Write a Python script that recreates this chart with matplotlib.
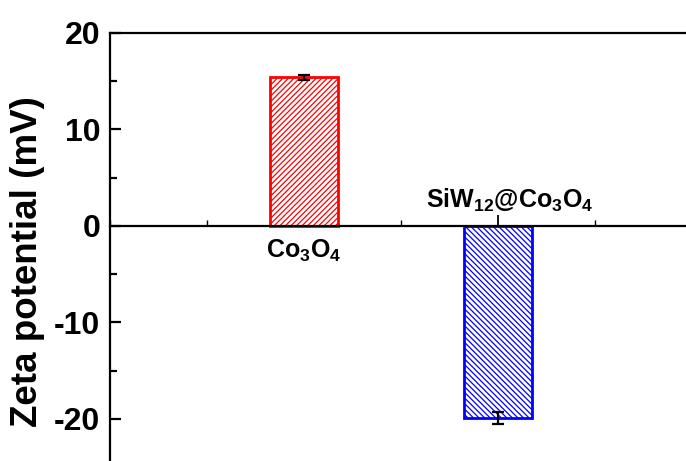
import numpy as np
import matplotlib
matplotlib.use("Agg")
import matplotlib.pyplot as plt
from matplotlib.ticker import MultipleLocator

# data
samples = [r"$\mathbf{Co_3O_4}$", r"$\mathbf{SiW_{12}@Co_3O_4}$"]
zeta = [15.4, -19.9]
zeta_err = [0.25, 0.6]
edge_colors = ["#ff0000", "#0000ff"]
hatches = ["//////", "\\\\\\\\\\\\"]
y_ticks = [-20, -10, 0, 10, 20]

plt.rcParams["font.family"] = ["Liberation Sans", "DejaVu Sans"]
plt.rcParams["font.weight"] = "bold"
plt.rcParams["mathtext.fontset"] = "custom"
plt.rcParams["mathtext.bf"] = "Liberation Sans:bold"
plt.rcParams["mathtext.rm"] = "Liberation Sans:bold"
plt.rcParams["axes.unicode_minus"] = False
plt.rcParams["hatch.linewidth"] = 0.9

fig = plt.figure(figsize=(6.86, 4.61), dpi=100)
ax = fig.add_axes([110 / 686, -6 / 461, 582 / 686, 434 / 461])

x = np.arange(1, len(zeta) + 1)
for i in range(len(zeta)):
    ax.bar(x[i], zeta[i], width=0.355, color="white", edgecolor=edge_colors[i],
           hatch=hatches[i], linewidth=2, zorder=2)
ax.errorbar(x, zeta, yerr=zeta_err, fmt="none", ecolor="black",
            elinewidth=1.6, capsize=4, capthick=1.6, zorder=3)

ax.set_xlim(0, 3)
ax.set_ylim(-25, 20)

ax.spines["bottom"].set_position(("data", 0))
ax.spines["right"].set_visible(False)
for s in ["left", "bottom", "top"]:
    ax.spines[s].set_linewidth(1.6)

ax.set_xticks(x)
ax.set_xticklabels([])
ax.xaxis.set_minor_locator(MultipleLocator(0.5))
ax.tick_params(axis="x", which="major", direction="in", length=8, width=1.3, top=False)
ax.tick_params(axis="x", which="minor", direction="in", length=4, width=1.0, top=False)

ax.set_yticks(y_ticks)
ax.yaxis.set_minor_locator(MultipleLocator(5))
ax.tick_params(axis="y", which="major", direction="in", length=8, width=1.6,
               labelsize=23, pad=7)
ax.tick_params(axis="y", which="minor", direction="in", length=5, width=1.6)
for lab in ax.get_yticklabels():
    lab.set_fontweight("bold")

ax.set_ylabel("Zeta potential (mV)", fontsize=26.5, fontweight="bold")
ax.yaxis.set_label_coords(-0.112, 0.473)

# sample names sit on the opposite side of the zero line from the bar
ax.text(x[0], -1.2, samples[0], fontsize=18, ha="center", va="top")
ax.text(x[1] + 0.06, 1.2, samples[1], fontsize=18, ha="center", va="bottom")

fig.savefig("out.png", dpi=100)
